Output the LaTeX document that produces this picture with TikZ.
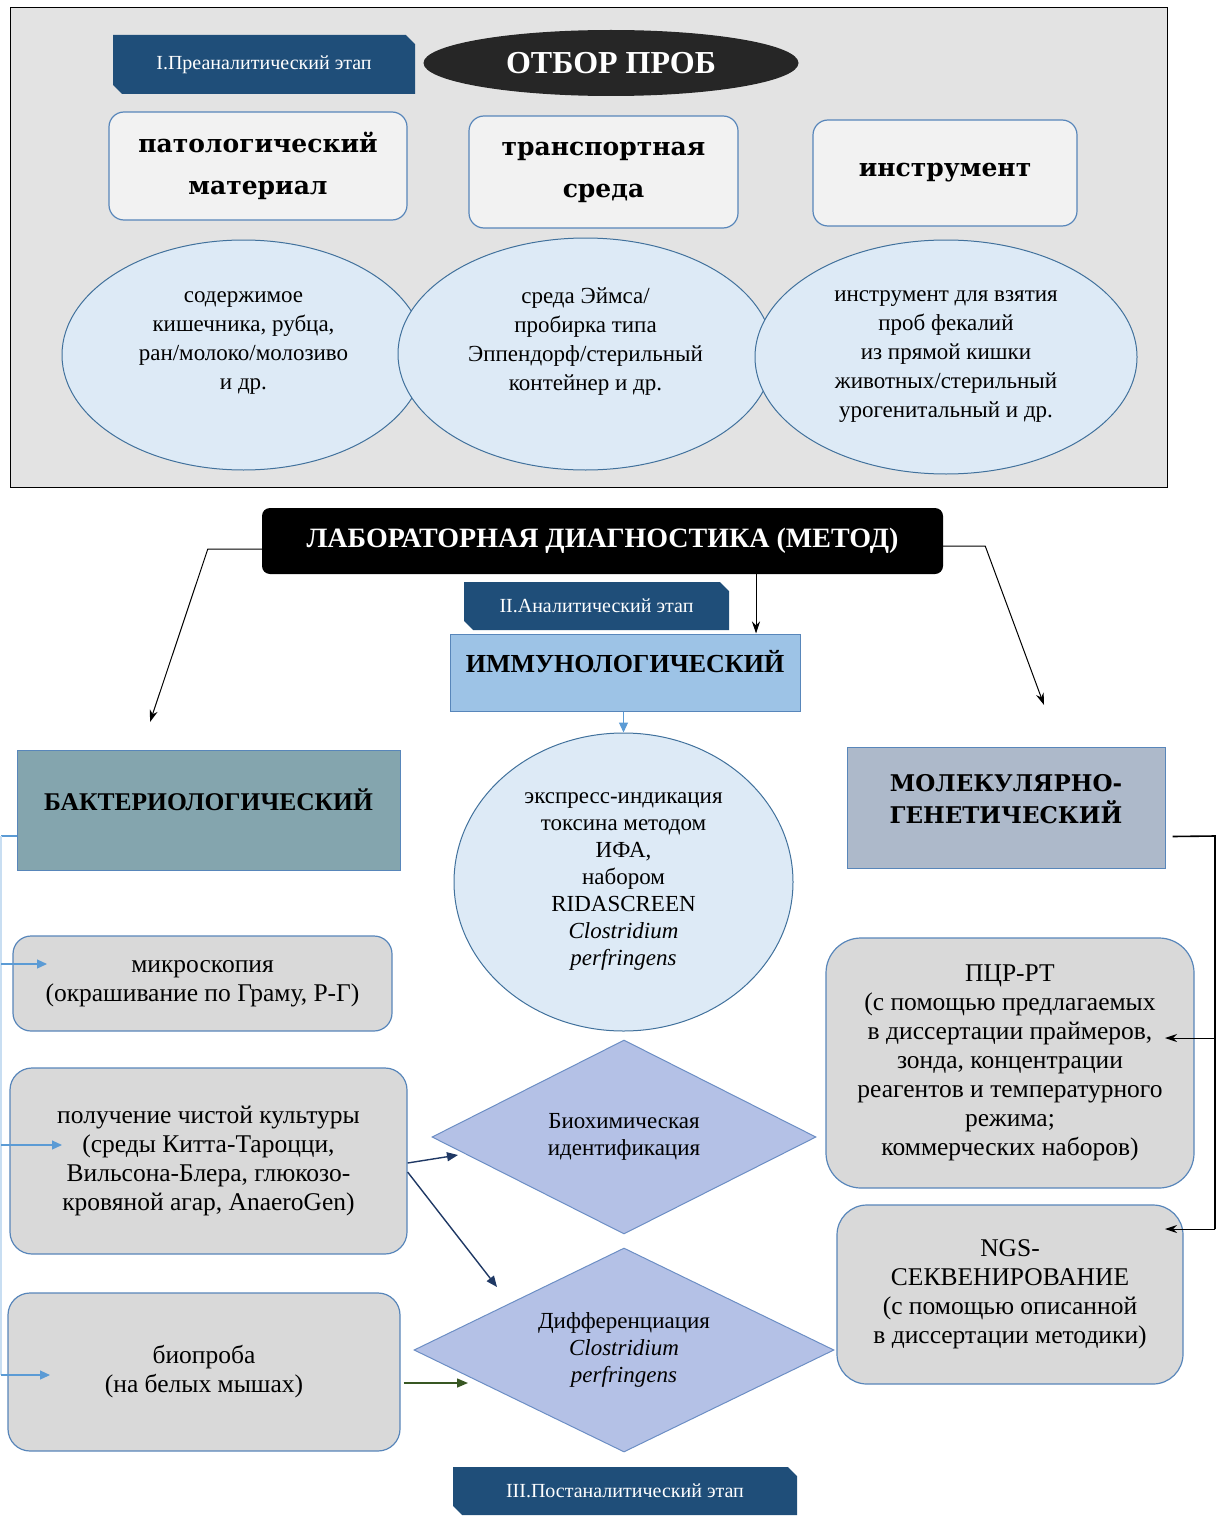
\documentclass[tikz,border=0pt]{standalone}
\usepackage{fontspec}
\setmainfont{Liberation Serif}
\newfontfamily\widefont{DejaVu Serif}
\usetikzlibrary{shapes.geometric,shapes.misc,arrows.meta}

\begin{document}
\begin{tikzpicture}[x=1pt,y=-1pt,
    stagetag/.style={chamfered rectangle, chamfered rectangle corners={north east,south west},
        chamfered rectangle xsep=6pt, fill=stageblue, text=white, inner sep=0pt,
        font=\fontsize{20}{22}\selectfont},
    topbox/.style={draw=boxline, fill=boxlight, line width=1.2pt, rounded corners=15pt,
        inner sep=0pt, align=center, font=\widefont\bfseries\fontsize{25}{42}\selectfont},
    bluering/.style={ellipse, draw=ringline, fill=ringfill, line width=1pt, inner sep=0pt,
        align=center, font=\fontsize{23}{29}\selectfont},
    methodbox/.style={draw=boxline, line width=1pt, inner sep=0pt, align=center,
        font=\bfseries\fontsize{25.5}{32}\selectfont},
    greybox/.style={draw=boxline, fill=stepgrey, line width=1.2pt, rounded corners=22pt,
        inner sep=0pt, align=center, font=\fontsize{25.5}{29}\selectfont},
    checkdiamond/.style={diamond, draw=diamline, fill=diamfill, line width=1pt, inner sep=-25pt,
        align=center, font=\fontsize{23}{27}\selectfont},
    blackarrow/.style={line width=1pt, -{Stealth[length=12pt,width=8pt]}},
    bluearrow/.style={draw=busblue, line width=1.2pt, -{Triangle[length=10pt,width=9pt]}},
    navyarrow/.style={draw=navy, line width=1.4pt, -{Triangle[length=11pt,width=9pt]}},
    greenarrow/.style={draw=leafgreen, line width=1.4pt, -{Triangle[length=11pt,width=9pt]}}
]
    % Colours taken from the scheme
    \definecolor{panelgrey}{RGB}{227, 227, 227}
    \definecolor{stageblue}{RGB}{31, 78, 121}
    \definecolor{boxlight}{RGB}{242, 242, 242}
    \definecolor{boxline}{RGB}{88, 134, 186}
    \definecolor{ringfill}{RGB}{221, 234, 246}
    \definecolor{ringline}{RGB}{65, 113, 156}
    \definecolor{immfill}{RGB}{157, 195, 230}
    \definecolor{bactfill}{RGB}{132, 165, 174}
    \definecolor{molfill}{RGB}{173, 185, 202}
    \definecolor{stepgrey}{RGB}{217, 217, 217}
    \definecolor{diamfill}{RGB}{180, 193, 230}
    \definecolor{diamline}{RGB}{108, 142, 196}
    \definecolor{busblue}{RGB}{91, 155, 213}
    \definecolor{buslight}{RGB}{200, 222, 242}
    \definecolor{navy}{RGB}{31, 56, 100}
    \definecolor{leafgreen}{RGB}{56, 87, 35}

    \useasboundingbox (0,0) rectangle (1222,1517);

    % I. Pre-analytic stage: sampling
    \draw[fill=panelgrey, line width=1pt] (10,8) rectangle (1167,487);
    \node[stagetag, minimum width=302pt, minimum height=59pt] (stageone) at (264,64.5) {I.Преаналитический этап};
    \node[ellipse, fill=black!85, text=white, inner sep=0pt, minimum width=375pt, minimum height=66pt,
        font=\bfseries\fontsize{32}{34}\selectfont] (sampling) at (611,63) {ОТБОР ПРОБ};

    \node[topbox, minimum width=298pt, minimum height=108pt] (pathmat) at (258,166) {патологический\\материал};
    \node[topbox, minimum width=269pt, minimum height=112pt] (transmed) at (603.5,172) {транспортная\\среда};
    \node[topbox, minimum width=264pt, minimum height=106pt] (instr) at (945,173) {инструмент};

    \node[bluering, minimum width=363pt, minimum height=230pt] (matdesc) at (243.5,355)
        {содержимое\\кишечника, рубца,\\ран/молоко/молозиво\\и др.\\ \mbox{}};
    \node[bluering, minimum width=375pt, minimum height=232pt] (meddesc) at (585.5,354)
        {среда Эймса/\\пробирка типа\\Эппендорф/стерильный\\контейнер и др.\\ \mbox{}};
    \node[bluering, minimum width=382pt, minimum height=234pt] (instrdesc) at (946,357)
        {инструмент для взятия\\проб фекалий\\из прямой кишки\\животных/стерильный\\урогенитальный и др.};

    % II. Analytic stage: laboratory methods
    \node[fill=black, text=white, rounded corners=8pt, minimum width=681pt, minimum height=66pt,
        font=\bfseries\fontsize{28}{30}\selectfont] (lab) at (602.5,541) {ЛАБОРАТОРНАЯ ДИАГНОСТИКА (МЕТОД)};
    \node[stagetag, minimum width=265pt, minimum height=48pt] (stagetwo) at (596.5,606) {II.Аналитический этап};

    \node[methodbox, fill=immfill, minimum width=350pt, text height=38pt, text depth=39pt,
        font=\bfseries\fontsize{26}{30}\selectfont] (imm) at (625,672.5) {ИММУНОЛОГИЧЕСКИЙ};
    \node[methodbox, fill=bactfill, minimum width=383pt, text height=60pt, text depth=60pt] (bact) at (208.5,810) {БАКТЕРИОЛОГИЧЕСКИЙ};
    \node[methodbox, fill=molfill, minimum width=318pt, minimum height=121pt,
        font=\widefont\bfseries\fontsize{23}{32}\selectfont] (mol) at (1006,807.5) {МОЛЕКУЛЯРНО-\\ГЕНЕТИЧЕСКИЙ\\[-14pt]\mbox{}};

    \node[bluering, minimum width=339pt, minimum height=298pt, font=\fontsize{23}{27}\selectfont] (elisa) at (623.5,882)
        {экспресс-индикация\\токсина методом\\ИФА,\\набором\\RIDASCREEN\\\textit{Clostridium}\\\textit{perfringens}};

    % bacteriological steps
    \node[greybox, minimum width=379pt, minimum height=95pt, rounded corners=18pt] (micro) at (202.5,983.5)
        {микроскопия\\(окрашивание по Граму, Р-Г)};
    \node[greybox, minimum width=397pt, minimum height=186pt] (culture) at (208.5,1161)
        {получение чистой культуры\\(среды Китта-Тароцци,\\Вильсона-Блера, глюкозо-\\кровяной агар, AnaeroGen)};
    \node[greybox, minimum width=392pt, minimum height=158pt] (bio) at (204,1372)
        {биопроба\\(на белых мышах)};

    \node[checkdiamond, minimum width=384pt, minimum height=194pt] (biochem) at (624,1137)
        {Биохимическая\\идентификация};
    \node[checkdiamond, minimum width=420pt, minimum height=204pt] (diff) at (624,1350)
        {Дифференциация\\\textit{Clostridium}\\\textit{perfringens}};

    % molecular-genetic steps
    \node[greybox, minimum width=368pt, minimum height=250pt, rounded corners=35pt] (pcr) at (1010,1063)
        {ПЦР-РТ\\(с помощью предлагаемых\\в диссертации праймеров,\\зонда, концентрации\\реагентов и температурного\\режима;\\коммерческих наборов)};
    \node[greybox, minimum width=346pt, minimum height=179pt, rounded corners=30pt] (ngs) at (1010,1294.5)
        {NGS-\\СЕКВЕНИРОВАНИЕ\\(с помощью описанной\\в диссертации методики)};

    % III. Post-analytic stage
    \node[stagetag, minimum width=344pt, minimum height=48pt] (stagethree) at (625,1491) {III.Постаналитический этап};

    % Connectors from the laboratory box
    \coordinate (bacttip) at (150,722);
    \coordinate (moltip) at (1044,705);
    \draw[blackarrow] ([yshift=-8pt]lab.west) -- ++(-54,0) -- (bacttip);
    \draw[blackarrow] ([yshift=-5pt]lab.east) -- ++(42,0) -- (moltip);
    \draw[blackarrow] (lab.south -| 756,0) -- (imm.north -| 756,0);
    \draw[bluearrow] (imm.south -| elisa.north) -- (elisa.north);

    % Left bus to bacteriological steps
    \coordinate (lbus) at (1,836);
    \coordinate (microtip) at (47,964);
    \coordinate (culturetip) at (62,1145);
    \coordinate (biotip) at (50,1375);
    \draw[busblue, line width=1.2pt] ([yshift=-26pt]bact.west) -- (lbus);
    \draw[buslight, line width=1.2pt] (lbus) -- (lbus |- biotip);
    \draw[bluearrow] (lbus |- microtip) -- (microtip);
    \draw[bluearrow] (lbus |- culturetip) -- (culturetip);
    \draw[bluearrow] (lbus |- biotip) -- (biotip);

    % Culture and bioassay to identification
    \coordinate (biochemtip) at (458,1155);
    \coordinate (difftip) at (497,1287);
    \coordinate (greentip) at (468,1383);
    \draw[navyarrow] ([yshift=-2pt]culture.east) -- (biochemtip);
    \draw[navyarrow] ([yshift=-11pt]culture.east) -- (difftip);
    \draw[greenarrow] ([xshift=3pt,yshift=-11pt]bio.east) -- (greentip);

    % Right bus to molecular-genetic steps
    \coordinate (rbus) at (1215,836);
    \coordinate (pcrtip) at (1165,1038);
    \coordinate (ngstip) at (1165,1229);
    \draw[line width=1.6pt] ([xshift=7pt,yshift=-29pt]mol.east) -- (rbus) -- (rbus |- ngstip);
    \draw[blackarrow] (rbus |- pcrtip) -- (pcrtip);
    \draw[blackarrow] (rbus |- ngstip) -- (ngstip);
\end{tikzpicture}
\end{document}
